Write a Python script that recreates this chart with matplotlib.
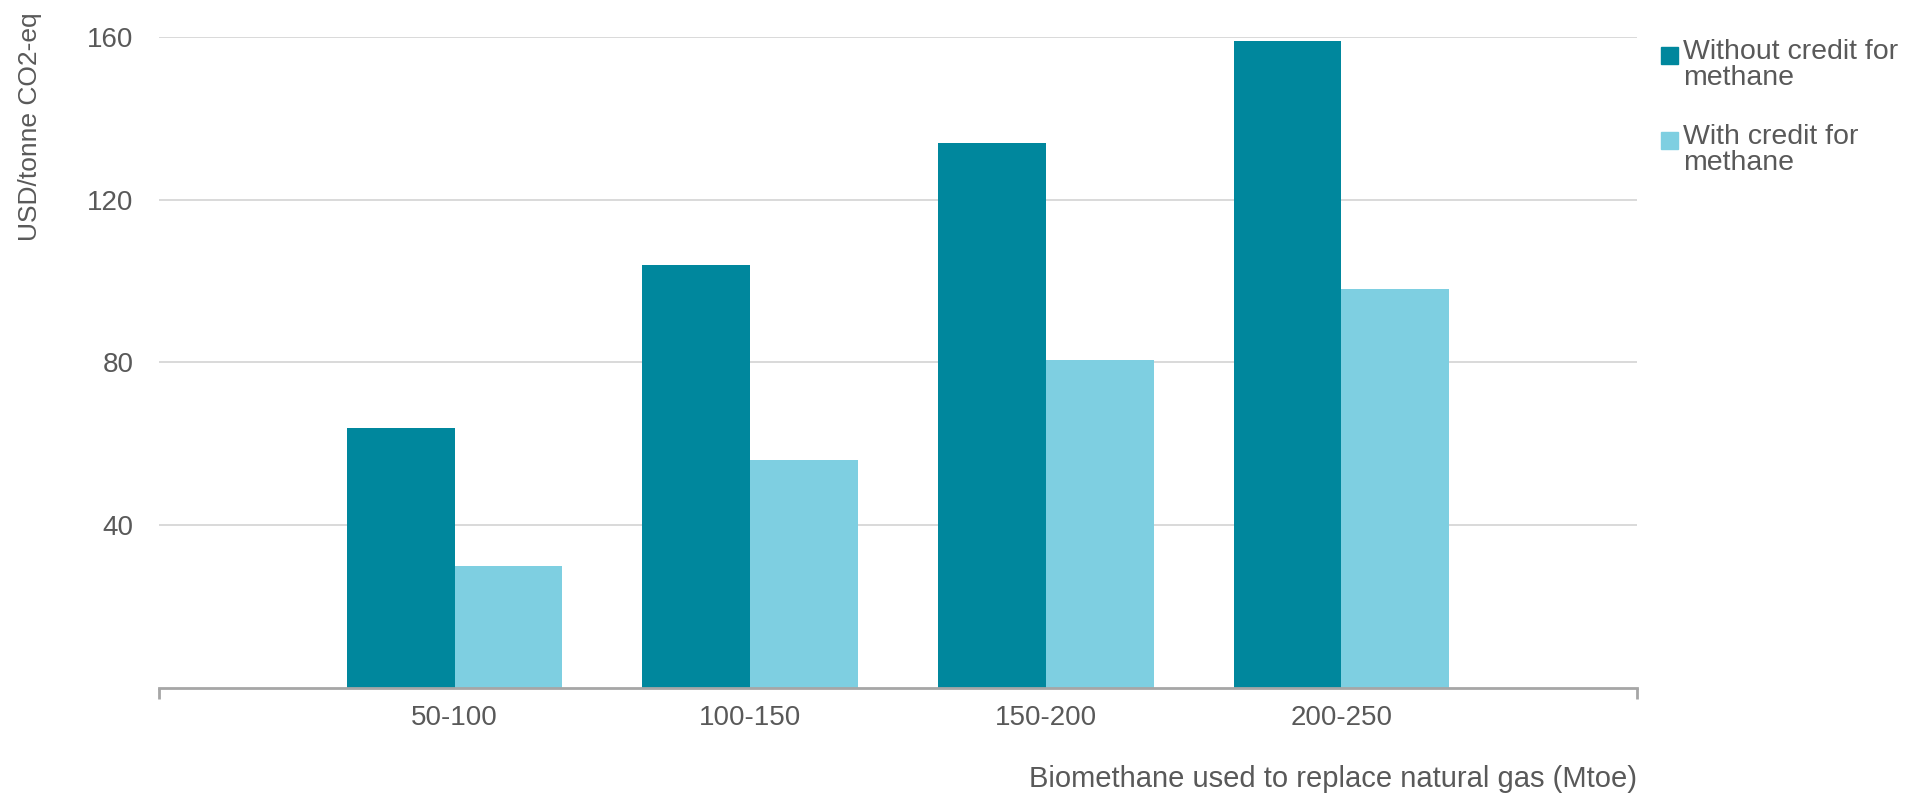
import matplotlib
matplotlib.use("Agg")
import matplotlib.pyplot as plt
import numpy as np
from matplotlib.patches import Rectangle

plt.rcParams["font.family"] = ["Liberation Sans", "DejaVu Sans"]

CATEGORIES = ["50-100", "100-150", "150-200", "200-250"]
WITHOUT_CREDIT = [64, 104, 134, 159]
WITH_CREDIT = [30, 56, 80.5, 98]
SERIES_LABELS = ["Without credit for\nmethane", "With credit for\nmethane"]
SERIES_COLORS = ["#00879D", "#7ECFE1"]
Y_TICKS = [40, 80, 120, 160]

TEXT = "#595959"
W, H = 1908, 798


def fx(x):
    return x / W


def fy(y):
    return 1 - y / H


fig = plt.figure(figsize=(W / 100, H / 100), dpi=100)
fig.patch.set_facecolor("white")
ax = fig.add_axes([fx(159), fy(688), fx(1637) - fx(159), fy(37) - fy(688)])

x = np.arange(1, len(CATEGORIES) + 1)
bw = 0.365
ax.bar(x - bw / 2, WITHOUT_CREDIT, bw, color=SERIES_COLORS[0], zorder=3)
ax.bar(x + bw / 2, WITH_CREDIT, bw, color=SERIES_COLORS[1], zorder=3)

ax.set_xlim(0, len(CATEGORIES) + 1)
ax.set_ylim(0, 160)
ax.set_yticks(Y_TICKS)
ax.set_yticklabels([str(v) for v in Y_TICKS])
ax.set_xticks(x)
ax.set_xticklabels(CATEGORIES)
ax.set_xticks([0, len(CATEGORIES) + 1], minor=True)

ax.grid(axis="y", color="#D9D9D9", lw=1.4, zorder=0)
for s in ["top", "right", "left"]:
    ax.spines[s].set_visible(False)
ax.spines["bottom"].set_color("#A6A6A6")
ax.spines["bottom"].set_linewidth(2.0)
ax.spines["bottom"].set_zorder(4)

ax.tick_params(axis="y", length=0, pad=18.5, labelsize=20, labelcolor=TEXT)
ax.tick_params(axis="x", which="major", length=0, pad=12, labelsize=20, labelcolor=TEXT)
ax.tick_params(axis="x", which="minor", length=8, width=2.0, color="#A6A6A6")

fig.text(fx(30), fy(12), "USD/tonne CO2-eq", rotation=90, ha="center", va="top",
         fontsize=19, color=TEXT)
fig.text(fx(1637), fy(779), "Biomethane used to replace natural gas (Mtoe)",
         ha="right", va="center", fontsize=21, color=TEXT)

# legend drawn by hand so the swatch sits on the first text line
for i, (label, color) in enumerate(zip(SERIES_LABELS, SERIES_COLORS)):
    top = 47 + i * 85
    fig.add_artist(Rectangle((fx(1661), fy(top + 17)), fx(17), 17 / H,
                             transform=fig.transFigure, color=color))
    fig.text(fx(1683), fy(top - 8), label, ha="left", va="top", fontsize=20.5,
             color=TEXT, linespacing=1.0)

fig.savefig("out.png", dpi=100, facecolor="white")
